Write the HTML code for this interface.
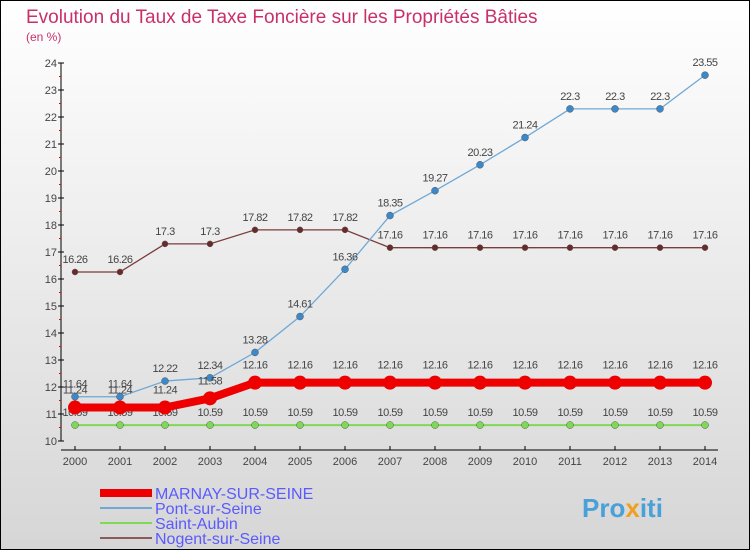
<!DOCTYPE html>
<html><head><meta charset="utf-8"><style>
body{margin:0}
#c{width:750px;height:550px;position:relative;font-family:"Liberation Sans",sans-serif;background:linear-gradient(#ffffff,#d6d6d6);box-sizing:border-box;border:1px solid #000;overflow:hidden}
</style></head><body>
<div id="c">
<svg id="s" width="750" height="550" style="position:absolute;left:-1px;top:-1px">
<text x="26" y="23" font-size="19" fill="#c8306a">Evolution du Taux de Taxe Foncière sur les Propriétés Bâties</text>
<text x="26" y="41" font-size="12" fill="#c8306a">(en %)</text>
<g id="ax"></g><g id="series"></g>
<g>
<line x1="100" y1="493" x2="152" y2="493" stroke="#e00" stroke-width="8"/>
<text x="155" y="499" font-size="16" fill="#5a5aff">MARNAY-SUR-SEINE</text>
<line x1="100" y1="508" x2="152" y2="508" stroke="#6fa8d6" stroke-width="2"/>
<text x="155" y="514" font-size="16" fill="#5a5aff">Pont-sur-Seine</text>
<line x1="100" y1="523" x2="152" y2="523" stroke="#7ed957" stroke-width="2"/>
<text x="155" y="529" font-size="16" fill="#5a5aff">Saint-Aubin</text>
<line x1="100" y1="538" x2="152" y2="538" stroke="#8b5a5a" stroke-width="2"/>
<text x="155" y="544" font-size="16" fill="#5a5aff">Nogent-sur-Seine</text>
</g>
<text x="582" y="517" font-size="26" font-weight="bold" fill="#4aa0d8">Pro<tspan fill="#f0a020">x</tspan>iti</text>
</svg></div>
<script>
const years=[2000,2001,2002,2003,2004,2005,2006,2007,2008,2009,2010,2011,2012,2013,2014];
const marnay=[11.24,11.24,11.24,11.58,12.16,12.16,12.16,12.16,12.16,12.16,12.16,12.16,12.16,12.16,12.16];
const pont=[11.64,11.64,12.22,12.34,13.28,14.61,16.36,18.35,19.27,20.23,21.24,22.3,22.3,22.3,23.55];
const saint=[10.59,10.59,10.59,10.59,10.59,10.59,10.59,10.59,10.59,10.59,10.59,10.59,10.59,10.59,10.59];
const nogent=[16.26,16.26,17.3,17.3,17.82,17.82,17.82,17.16,17.16,17.16,17.16,17.16,17.16,17.16,17.16];
const yTicks=[10,11,12,13,14,15,16,17,18,19,20,21,22,23,24];
const NS="http://www.w3.org/2000/svg";
const xs=i=>75+i*45, ys=v=>441-(v-10)*27;
function mk(p,t,a){const e=document.createElementNS(NS,t);for(const k in a)e.setAttribute(k,a[k]);p.appendChild(e);return e;}
const ax=document.getElementById('ax');
mk(ax,'line',{x1:61,y1:ys(24),x2:61,y2:ys(10),stroke:'#000'});
mk(ax,'line',{x1:61,y1:450,x2:718,y2:450,stroke:'#000'});
yTicks.forEach(v=>{
 mk(ax,'line',{x1:58,y1:ys(v),x2:64,y2:ys(v),stroke:'#000'});
 if(v<24)mk(ax,'line',{x1:59,y1:ys(v+0.5),x2:61,y2:ys(v+0.5),stroke:'#e00'});
 const t=mk(ax,'text',{x:57,y:ys(v)+4,'font-size':11,fill:'#444','text-anchor':'end'});t.textContent=v;
 
 
});
years.forEach((y,i)=>{
 mk(ax,'line',{x1:xs(i),y1:446,x2:xs(i),y2:450,stroke:'#000'});
 const t=mk(ax,'text',{x:xs(i),y:465,'font-size':11,fill:'#444','text-anchor':'middle'});t.textContent=y;
 
 
});
const sg=document.getElementById('series');
function draw(name,data,col,w,r,dcol,lblOff){
 const g=mk(sg,'g',{});
 
 
 mk(g,'polyline',{points:data.map((v,i)=>xs(i)+','+ys(v)).join(' '),fill:'none',stroke:col,'stroke-width':w});
 data.forEach((v,i)=>{
  const c=mk(g,'circle',{cx:xs(i),cy:ys(v),r:r,fill:dcol,stroke:'#555','stroke-width':r>5?0:0.5});
  
  
  const t=mk(g,'text',{x:xs(i),y:ys(v)+lblOff,'font-size':11,fill:'#444','text-anchor':'middle','letter-spacing':'-0.5'});
  t.textContent=v;
  
  
 });
}
draw('saint-aubin',saint,'#7ed957',2,3.5,'#7ed957',-9);
draw('nogent',nogent,'#7a3c3c',1.3,3,'#6b2a2a',-9);
draw('pont',pont,'#6fa8d6',1.3,3.5,'#3d88c8',-9);
draw('marnay',marnay,'#e00',8,7,'#e00',-14);
</script>
</body></html>
